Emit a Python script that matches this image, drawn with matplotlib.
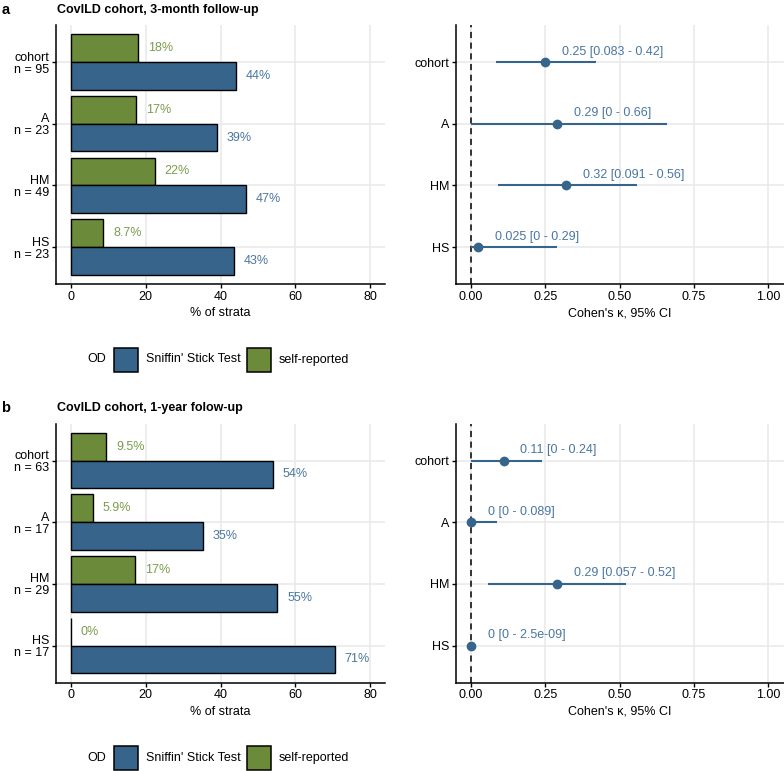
import matplotlib
matplotlib.use('Agg')
import matplotlib.pyplot as plt
from matplotlib.patches import Rectangle
import numpy as np

plt.rcParams['font.family'] = ['Liberation Sans', 'DejaVu Sans']

# colours (ggplot steelblue4 / olivedrab-ish)
C_SST = '#36648B'
C_SELF = '#6B8A3A'
C_SST_TXT = '#4A76A0'
C_SELF_TXT = '#7C9C4C'
C_GRID = '#E8E8E8'

strata = ['cohort', 'A', 'HM', 'HS']
od_labels = ["Sniffin' Stick Test", 'self-reported']

# panel a: 3-month follow-up
n_3m = [95, 23, 49, 23]
sst_3m = [44.2, 39.1, 46.9, 43.48]
self_3m = [17.9, 17.4, 22.4, 8.7]
kappa_3m = [0.25, 0.29, 0.32, 0.025]
lower_3m = [0.083, 0.0, 0.091, 0.0]
upper_3m = [0.42, 0.66, 0.56, 0.29]

# panel b: 1-year follow-up
n_1y = [63, 17, 29, 17]
sst_1y = [54.0, 35.3, 55.2, 70.6]
self_1y = [9.5, 5.9, 17.2, 0.0]
kappa_1y = [0.11, 0.0, 0.29, 0.0]
lower_1y = [0.0, 0.0, 0.057, 0.0]
upper_1y = [0.24, 0.089, 0.52, 2.5e-9]

W, H = 784, 771


def fig_rect(x0, y0, x1, y1):
    return [x0 / W, 1 - y1 / H, (x1 - x0) / W, (y1 - y0) / H]


def _style(ax):
    for s in ['top', 'right']:
        ax.spines[s].set_visible(False)
    for s in ['left', 'bottom']:
        ax.spines[s].set_linewidth(1.1)
        ax.spines[s].set_color('black')
    ax.tick_params(length=3, width=1.0, labelsize=9, colors='black', pad=2)
    ax.set_axisbelow(True)


def bar_panel(ax, n, sst, selfrep):
    y = np.arange(len(strata))
    h = 0.45
    for yy in y:
        ax.axhline(yy, color=C_GRID, lw=1.1, zorder=0)
    for xx in [0, 20, 40, 60, 80]:
        ax.axvline(xx, color=C_GRID, lw=1.1, zorder=0)
    ax.barh(y - h / 2, selfrep, height=h, color=C_SELF, edgecolor='black', lw=1.0, zorder=2)
    ax.barh(y + h / 2, sst, height=h, color=C_SST, edgecolor='black', lw=1.0, zorder=2)
    for yy, v in zip(y, selfrep):
        ax.annotate(f'{v:.2g}%', (v, yy - h / 2), xytext=(7, 0), textcoords='offset points',
                    ha='left', va='center', fontsize=9, color=C_SELF_TXT)
    for yy, v in zip(y, sst):
        ax.annotate(f'{v:.2g}%', (v, yy + h / 2), xytext=(7, 0), textcoords='offset points',
                    ha='left', va='center', fontsize=9, color=C_SST_TXT)
    ax.set_xlim(-4, 84)
    ax.set_ylim(len(strata) - 0.4, -0.6)
    ax.set_xticks([0, 20, 40, 60, 80])
    ax.set_yticks(y)
    ax.set_yticklabels([f'{s}\nn = {k}' for s, k in zip(strata, n)], ha='right',
                       linespacing=1.0)
    ax.set_xlabel('% of strata', fontsize=9, labelpad=3)
    _style(ax)


def kappa_panel(ax, kappa, lower, upper):
    y = np.arange(len(strata))
    for yy in y:
        ax.axhline(yy, color=C_GRID, lw=1.1, zorder=0)
    for xx in [0, 0.25, 0.5, 0.75, 1.0]:
        ax.axvline(xx, color=C_GRID, lw=1.1, zorder=0)
    ax.axvline(0, color='black', lw=1.1, ls=(0, (4, 3)), zorder=1)
    ax.hlines(y, lower, upper, color=C_SST, lw=1.5, zorder=2)
    ax.plot(kappa, y, 'o', color=C_SST, ms=6, zorder=3)
    for yy, k, lo, hi in zip(y, kappa, lower, upper):
        ax.annotate(f'{k:.2g} [{lo:.2g} - {hi:.2g}]', (k, yy), xytext=(12, 7.5),
                    textcoords='offset points', ha='left', va='center',
                    fontsize=9, color=C_SST_TXT)
    ax.set_xlim(-0.05, 1.053)
    ax.set_ylim(len(strata) - 0.4, -0.6)
    ax.set_xticks([0, 0.25, 0.5, 0.75, 1.0])
    ax.set_xticklabels(['0.00', '0.25', '0.50', '0.75', '1.00'])
    ax.set_yticks(y)
    ax.set_yticklabels(strata)
    ax.set_xlabel("Cohen's κ, 95% CI", fontsize=9, labelpad=3)
    _style(ax)


def od_legend(fig, yc):
    # hand-made legend: title on the left, square keys, in pixel coords
    fy = 1 - yc / H
    fig.text(106 / W, fy, 'OD', fontsize=9, ha='right', va='center')
    key_x = [114, 247]
    for kx, col, lbl in zip(key_x, [C_SST, C_SELF], od_labels):
        fig.patches.append(Rectangle((kx / W, 1 - (yc + 12) / H), 24 / W, 24 / H,
                                     transform=fig.transFigure, facecolor=col,
                                     edgecolor='black', lw=1.1))
        fig.text((kx + 32) / W, fy, lbl, fontsize=9, ha='left', va='center')


fig = plt.figure(figsize=(W / 100, H / 100), dpi=100)

panels = [
    ('a', 'CovILD cohort, 3-month follow-up', 0, n_3m, sst_3m, self_3m, kappa_3m, lower_3m, upper_3m),
    ('b', 'CovILD cohort, 1-year folow-up', 398.5, n_1y, sst_1y, self_1y, kappa_1y, lower_1y, upper_1y),
]

for tag, title, dy, n, sst, selfrep, kap, lo, hi in panels:
    ax_l = fig.add_axes(fig_rect(56, 25 + dy, 385, 284 + dy))
    bar_panel(ax_l, n, sst, selfrep)
    ax_r = fig.add_axes(fig_rect(456, 25 + dy, 784, 284 + dy))
    kappa_panel(ax_r, kap, lo, hi)

    fig.text(1.5 / W, 1 - (10 + dy) / H, tag, fontsize=10.5, fontweight='bold', va='center')
    fig.text(57 / W, 1 - (10 + dy) / H, title, fontsize=9, fontweight='bold', va='center')
    od_legend(fig, 359.5 + dy)

fig.savefig('out.png', dpi=100)
